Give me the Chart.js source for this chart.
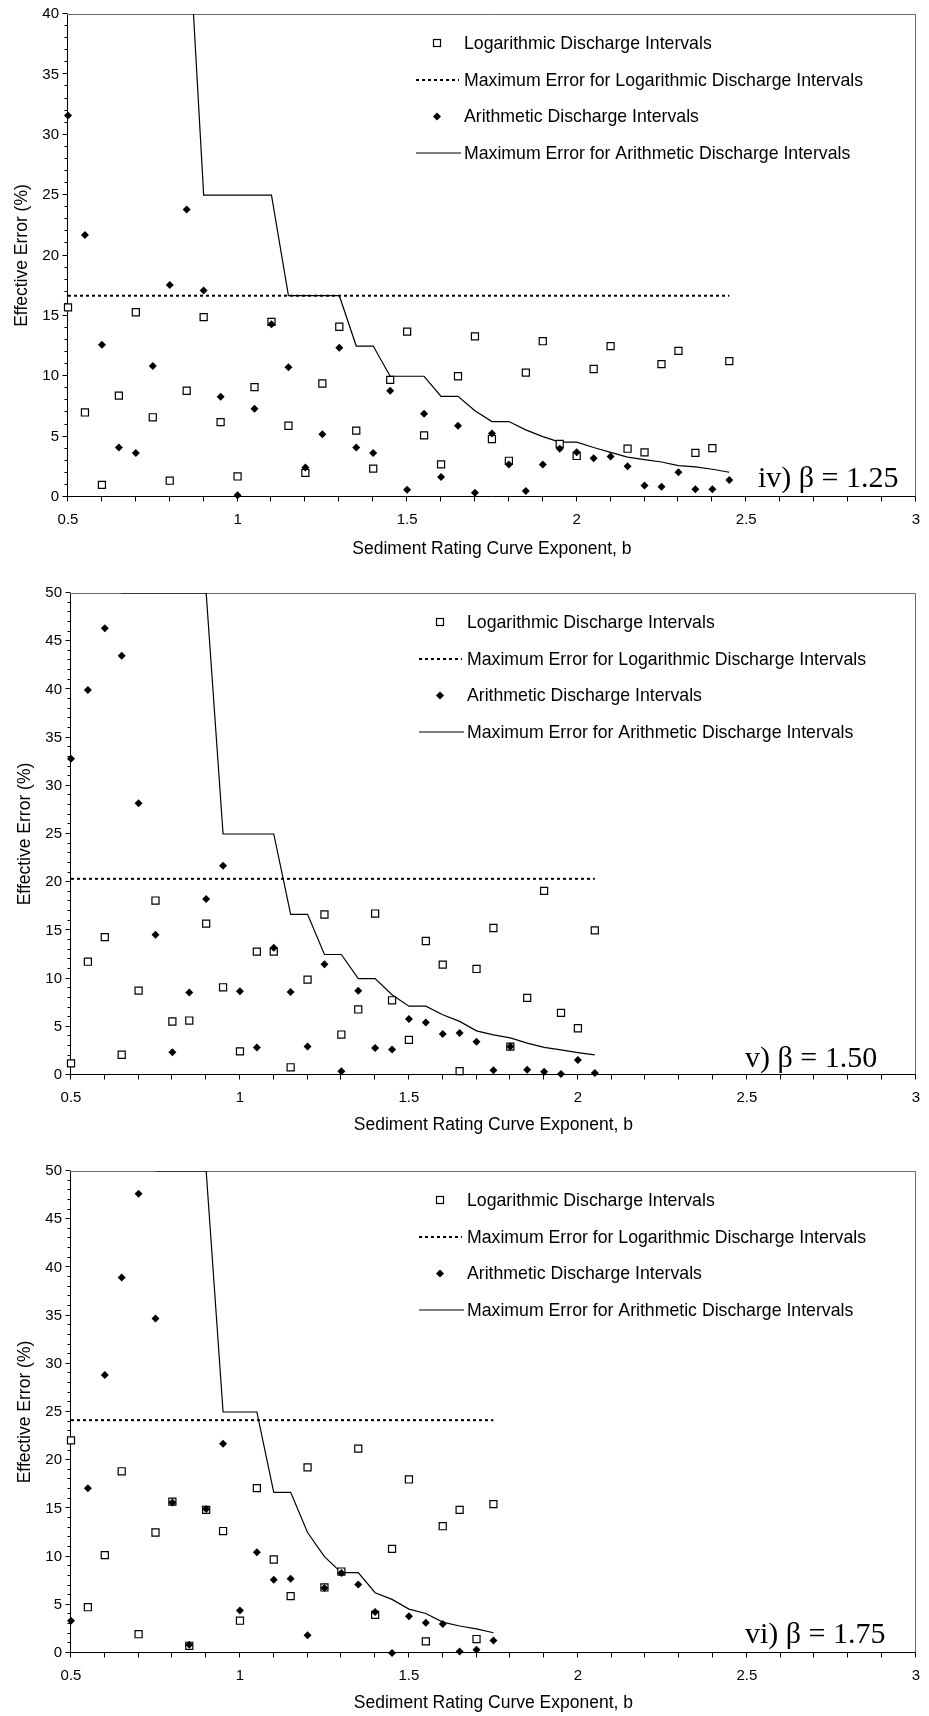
<!DOCTYPE html>
<html>
<head>
<meta charset="utf-8">
<title>Effective error vs sediment rating curve exponent</title>
<script src="https://cdn.jsdelivr.net/npm/chart.js@4.4.1/dist/chart.umd.min.js"></script>
<style>
  html, body { margin: 0; padding: 0; background: #fff; }
  #page { position: relative; width: 929px; height: 1716px; }
  .panel { position: absolute; left: 0; width: 929px; }
  .panel canvas { display: block; }
</style>
</head>
<body>
<div id="page">
  <div class="panel" style="top:0"><canvas id="panelIv" width="929" height="570"></canvas></div>
  <div class="panel" style="top:570px"><canvas id="panelV" width="929" height="570"></canvas></div>
  <div class="panel" style="top:1140px"><canvas id="panelVi" width="929" height="576"></canvas></div>
</div>
<script>
// ---- iv) beta = 1.25 ----
const exponentIv = [0.5, 0.55, 0.6, 0.65, 0.7, 0.75, 0.8, 0.85, 0.9, 0.95, 1.0, 1.05, 1.1, 1.15, 1.2, 1.25, 1.3, 1.35, 1.4, 1.45,
                    1.5, 1.55, 1.6, 1.65, 1.7, 1.75, 1.8, 1.85, 1.9, 1.95, 2.0, 2.05, 2.1, 2.15, 2.2, 2.25, 2.3, 2.35, 2.4, 2.45];
const logErrorIv = [15.7, 7.0, 1.0, 8.4, 15.3, 6.6, 1.35, 8.8, 14.9, 6.2, 1.7, 9.1, 14.5, 5.9, 2.0, 9.4, 14.1, 5.5, 2.35, 9.7,
                    13.7, 5.1, 2.7, 10.0, 13.3, 4.8, 3.0, 10.3, 12.9, 4.4, 3.4, 10.6, 12.5, 4.0, 3.7, 11.0, 12.1, 3.65, 4.05, 11.25];
const arithErrorIv = [31.6, 21.7, 12.6, 4.1, 3.65, 10.85, 17.55, 23.8, 17.1, 8.3, 0.15, 7.3, 14.3, 10.75, 2.45, 5.2, 12.35, 4.1, 3.65, 8.8,
                      0.6, 6.9, 1.65, 5.9, 0.35, 5.25, 2.7, 0.5, 2.7, 4.0, 3.7, 3.2, 3.35, 2.55, 0.95, 0.85, 2.05, 0.65, 0.65, 1.4];
const logMaxIv = 16.67;
const arithMaxExpIv = [0.85, 0.9, 0.95, 1.0, 1.05, 1.1, 1.15, 1.2, 1.25, 1.3, 1.35, 1.4, 1.45, 1.5, 1.55, 1.6, 1.65,
                       1.7, 1.75, 1.8, 1.85, 1.9, 1.95, 2.0, 2.05, 2.1, 2.15, 2.2, 2.25, 2.3, 2.35, 2.4, 2.45];
const arithMaxIv = [50, 25, 25, 25, 25, 25, 16.67, 16.67, 16.67, 16.67, 12.5, 12.5, 10, 10, 10, 8.33, 8.33,
                    7.14, 6.25, 6.25, 5.56, 5.0, 4.55, 4.55, 4.1, 3.7, 3.3, 3.1, 2.9, 2.6, 2.5, 2.3, 2.05];

// ---- v) beta = 1.50 ----
const exponentV = [0.5, 0.55, 0.6, 0.65, 0.7, 0.75, 0.8, 0.85, 0.9, 0.95, 1.0, 1.05, 1.1, 1.15, 1.2, 1.25,
                   1.3, 1.35, 1.4, 1.45, 1.5, 1.55, 1.6, 1.65, 1.7, 1.75, 1.8, 1.85, 1.9, 1.95, 2.0, 2.05];
const logErrorV = [1.2, 11.75, 14.3, 2.1, 8.75, 18.1, 5.55, 5.65, 15.7, 9.1, 2.45, 12.8, 12.8, 0.8, 9.9, 16.65,
                   4.2, 6.8, 16.75, 7.75, 3.65, 13.9, 11.45, 0.4, 11.0, 15.25, 2.95, 8.0, 19.1, 6.45, 4.85, 15.0];
const arithErrorV = [32.8, 39.95, 46.35, 43.5, 28.2, 14.55, 2.35, 8.55, 18.25, 21.7, 8.7, 2.85, 13.2, 8.6, 2.95, 11.5,
                     0.4, 8.75, 2.8, 2.65, 5.8, 5.45, 4.25, 4.35, 3.45, 0.5, 2.95, 0.55, 0.35, 0.1, 1.55, 0.2];
const logMaxV = 20.35;
const arithMaxExpV = [0.65, 0.7, 0.75, 0.8, 0.85, 0.9, 0.95, 1.0, 1.05, 1.1, 1.15, 1.2, 1.25, 1.3, 1.35,
                      1.4, 1.45, 1.5, 1.55, 1.6, 1.65, 1.7, 1.75, 1.8, 1.85, 1.9, 1.95, 2.0, 2.05];
const arithMaxV = [50, 50, 50, 50, 50, 50, 25, 25, 25, 25, 16.67, 16.67, 12.5, 12.5, 10,
                   10, 8.33, 7.14, 7.14, 6.25, 5.56, 4.58, 4.17, 3.85, 3.3, 2.86, 2.6, 2.33, 2.08];

// ---- vi) beta = 1.75 ----
const exponentVi = [0.5, 0.55, 0.6, 0.65, 0.7, 0.75, 0.8, 0.85, 0.9, 0.95, 1.0, 1.05, 1.1,
                    1.15, 1.2, 1.25, 1.3, 1.35, 1.4, 1.45, 1.5, 1.55, 1.6, 1.65, 1.7, 1.75];
const logErrorVi = [22.05, 4.75, 10.15, 18.85, 1.95, 12.5, 15.7, 0.75, 14.85, 12.65, 3.35, 17.1, 9.7,
                    5.9, 19.25, 6.8, 8.45, 21.2, 3.95, 10.8, 18.0, 1.2, 13.15, 14.85, 1.45, 15.45];
const arithErrorVi = [3.35, 17.1, 28.85, 38.95, 47.65, 34.7, 15.6, 0.85, 14.95, 21.7, 4.4, 10.45, 7.6,
                      7.7, 1.85, 6.75, 8.3, 7.1, 4.25, 0.0, 3.8, 3.15, 3.0, 0.15, 0.35, 1.3];
const logMaxVi = 24.15;
const arithMaxExpVi = [0.75, 0.8, 0.85, 0.9, 0.95, 1.0, 1.05, 1.1, 1.15, 1.2, 1.25,
                       1.3, 1.35, 1.4, 1.45, 1.5, 1.55, 1.6, 1.65, 1.7, 1.75];
const arithMaxVi = [50, 50, 50, 50, 25, 25, 25, 16.67, 16.67, 12.5, 10,
                    8.33, 8.33, 6.25, 5.56, 4.55, 4.1, 3.2, 2.8, 2.5, 2.1];

const xTickValues = [0.5, 1, 1.5, 2, 2.5, 3];

const SANS = '"Liberation Sans", Arial, Helvetica, sans-serif';
const SERIF = '"Liberation Serif", "Times New Roman", serif';
const DIAMOND_R = 4;

// Box around the plot plus the small outward tick marks (1 % minor / 5 % major, 0.1 on b)
const frameAndTicks = {
    id: 'frameAndTicks',
    beforeDatasetsDraw(chart) {
        const { ctx, chartArea: a, scales: { x, y } } = chart;
        const L = Math.round(a.left) - 0.5;
        const R = Math.round(a.right) - 0.5;
        const T = Math.round(a.top) + 0.5;
        const B = Math.round(a.bottom) - 0.5;
        ctx.save();
        ctx.lineWidth = 1;
        ctx.strokeStyle = '#6a6a6a';
        ctx.beginPath();
        ctx.moveTo(L, T);
        ctx.lineTo(R, T);
        ctx.lineTo(R, B);
        ctx.stroke();

        ctx.strokeStyle = '#000';
        ctx.beginPath();
        ctx.moveTo(L, T);
        ctx.lineTo(L, B);
        ctx.lineTo(R, B);
        for (let v = y.min; v <= y.max; v += 1) {
            const py = Math.round(y.getPixelForValue(v)) - 0.5;
            ctx.moveTo(L, py);
            ctx.lineTo(L - (v % 5 === 0 ? 5 : 3), py);
        }
        const n = Math.round((x.max - x.min) / 0.1);
        for (let k = 0; k <= n; k++) {
            const px = Math.round(x.getPixelForValue(x.min + k * 0.1)) - 0.5;
            ctx.moveTo(px, B);
            ctx.lineTo(px, B + 5);
        }
        ctx.stroke();
        ctx.restore();
    }
};

// Legend box inside the plot and the beta label in the lower right corner
const panelKey = {
    id: 'panelKey',
    afterDraw(chart, args, opts) {
        const { ctx, chartArea: a } = chart;
        const rows = [29, 66, 102.5, 139];
        const mx = a.left + 369;
        const tx = a.left + 396;
        ctx.save();

        // open square
        let y = a.top + rows[0];
        ctx.fillStyle = '#fff';
        ctx.strokeStyle = '#000';
        ctx.lineWidth = 1.2;
        ctx.fillRect(mx - 3.5, y - 3.5, 7, 7);
        ctx.strokeRect(mx - 3.5, y - 3.5, 7, 7);

        // dotted line
        y = a.top + rows[1];
        ctx.lineWidth = 2;
        ctx.setLineDash([3, 3]);
        ctx.beginPath();
        ctx.moveTo(a.left + 348, y);
        ctx.lineTo(a.left + 391, y);
        ctx.stroke();
        ctx.setLineDash([]);

        // filled diamond
        y = a.top + rows[2];
        ctx.fillStyle = '#000';
        ctx.beginPath();
        ctx.moveTo(mx - DIAMOND_R, y);
        ctx.lineTo(mx, y - DIAMOND_R);
        ctx.lineTo(mx + DIAMOND_R, y);
        ctx.lineTo(mx, y + DIAMOND_R);
        ctx.closePath();
        ctx.fill();

        // solid line
        y = a.top + rows[3];
        ctx.lineWidth = 1.2;
        ctx.beginPath();
        ctx.moveTo(a.left + 348, y);
        ctx.lineTo(a.left + 393, y);
        ctx.stroke();

        const labels = [
            'Logarithmic Discharge Intervals',
            'Maximum Error for Logarithmic Discharge Intervals',
            'Arithmetic Discharge Intervals',
            'Maximum Error for Arithmetic Discharge Intervals'
        ];
        ctx.font = '17.7px ' + SANS;
        ctx.textAlign = 'left';
        ctx.textBaseline = 'middle';
        ctx.fillStyle = '#000';
        labels.forEach((t, i) => ctx.fillText(t, tx, a.top + rows[i] + 1));

        ctx.font = '30px ' + SERIF;
        ctx.textBaseline = 'alphabetic';
        ctx.fillText(opts.tag, a.left + opts.tagDx, a.bottom - opts.tagDy);
        ctx.restore();
    }
};

function toPoints(xs, ys) {
    return xs.map((x, i) => ({ x: x, y: ys[i] }));
}

function buildPanel(canvasId, series, layout) {
    const first = series.exp[0];
    const last = series.exp[series.exp.length - 1];
    const tickFont = { family: SANS, size: 15 };
    const titleFont = { family: SANS, size: 17.5 };

    return new Chart(document.getElementById(canvasId), {
        type: 'scatter',
        data: {
            datasets: [
                {
                    label: 'Arithmetic Discharge Intervals',
                    data: toPoints(series.exp, series.arith),
                    pointStyle: 'rectRot',
                    pointRadius: DIAMOND_R,
                    pointBackgroundColor: '#000',
                    pointBorderWidth: 0,
                    clip: false
                },
                {
                    label: 'Logarithmic Discharge Intervals',
                    data: toPoints(series.exp, series.log),
                    pointStyle: 'rect',
                    pointRadius: 5,
                    pointBackgroundColor: '#fff',
                    pointBorderColor: '#000',
                    pointBorderWidth: 1.2,
                    clip: false
                },
                {
                    label: 'Maximum Error for Logarithmic Discharge Intervals',
                    data: [{ x: first, y: series.logMax }, { x: last, y: series.logMax }],
                    showLine: true,
                    borderColor: '#000',
                    borderWidth: 2,
                    borderDash: [3, 3],
                    pointRadius: 0
                },
                {
                    label: 'Maximum Error for Arithmetic Discharge Intervals',
                    data: toPoints(series.maxExp, series.arithMax),
                    showLine: true,
                    borderColor: '#000',
                    borderWidth: 1.2,
                    tension: 0,
                    pointRadius: 0
                }
            ]
        },
        options: {
            responsive: false,
            animation: false,
            events: [],
            layout: { padding: { top: layout.top, right: layout.right, left: 0, bottom: 0 } },
            plugins: {
                legend: { display: false },
                tooltip: { enabled: false },
                panelKey: { tag: layout.tag, tagDx: layout.tagDx, tagDy: layout.tagDy }
            },
            scales: {
                x: {
                    type: 'linear',
                    min: 0.5,
                    max: 3,
                    afterFit: s => { s.height = layout.xAxisH; },
                    afterBuildTicks: s => { s.ticks = xTickValues.map(v => ({ value: v })); },
                    grid: { display: false, drawTicks: true, tickLength: 5 },
                    border: { display: false },
                    ticks: {
                        autoSkip: false,
                        maxRotation: 0,
                        padding: 9,
                        color: '#000',
                        font: tickFont,
                        callback: v => String(Number(v.toFixed(2)))
                    },
                    title: {
                        display: true,
                        text: 'Sediment Rating Curve Exponent, b',
                        color: '#000',
                        font: titleFont,
                        padding: { top: 0, bottom: layout.xTitlePad }
                    }
                },
                y: {
                    type: 'linear',
                    min: 0,
                    max: layout.yMax,
                    afterFit: s => { s.width = layout.left; },
                    grid: { display: false, drawTicks: true, tickLength: 5 },
                    border: { display: false },
                    ticks: { stepSize: 5, padding: 4, color: '#000', font: tickFont },
                    title: {
                        display: true,
                        text: 'Effective Error (%)',
                        color: '#000',
                        font: titleFont,
                        padding: { top: layout.yTitlePad, bottom: 0 }
                    }
                }
            }
        },
        plugins: [frameAndTicks, panelKey]
    });
}

buildPanel('panelIv',
    { exp: exponentIv, log: logErrorIv, arith: arithErrorIv, logMax: logMaxIv, maxExp: arithMaxExpIv, arithMax: arithMaxIv },
    { yMax: 40, top: 14, right: 8, left: 68, xAxisH: 73, xTitlePad: 10.5, yTitlePad: 11.5, tag: 'iv) β = 1.25', tagDx: 690, tagDy: 10 });

buildPanel('panelV',
    { exp: exponentV, log: logErrorV, arith: arithErrorV, logMax: logMaxV, maxExp: arithMaxExpV, arithMax: arithMaxV },
    { yMax: 50, top: 23, right: 4, left: 71, xAxisH: 65, xTitlePad: 4.5, yTitlePad: 14.5, tag: 'v) β = 1.50', tagDx: 674, tagDy: 8 });

buildPanel('panelVi',
    { exp: exponentVi, log: logErrorVi, arith: arithErrorVi, logMax: logMaxVi, maxExp: arithMaxExpVi, arithMax: arithMaxVi },
    { yMax: 50, top: 31, right: 4, left: 71, xAxisH: 63, xTitlePad: 2.5, yTitlePad: 14.5, tag: 'vi) β = 1.75', tagDx: 674, tagDy: 10 });
</script>
</body>
</html>
